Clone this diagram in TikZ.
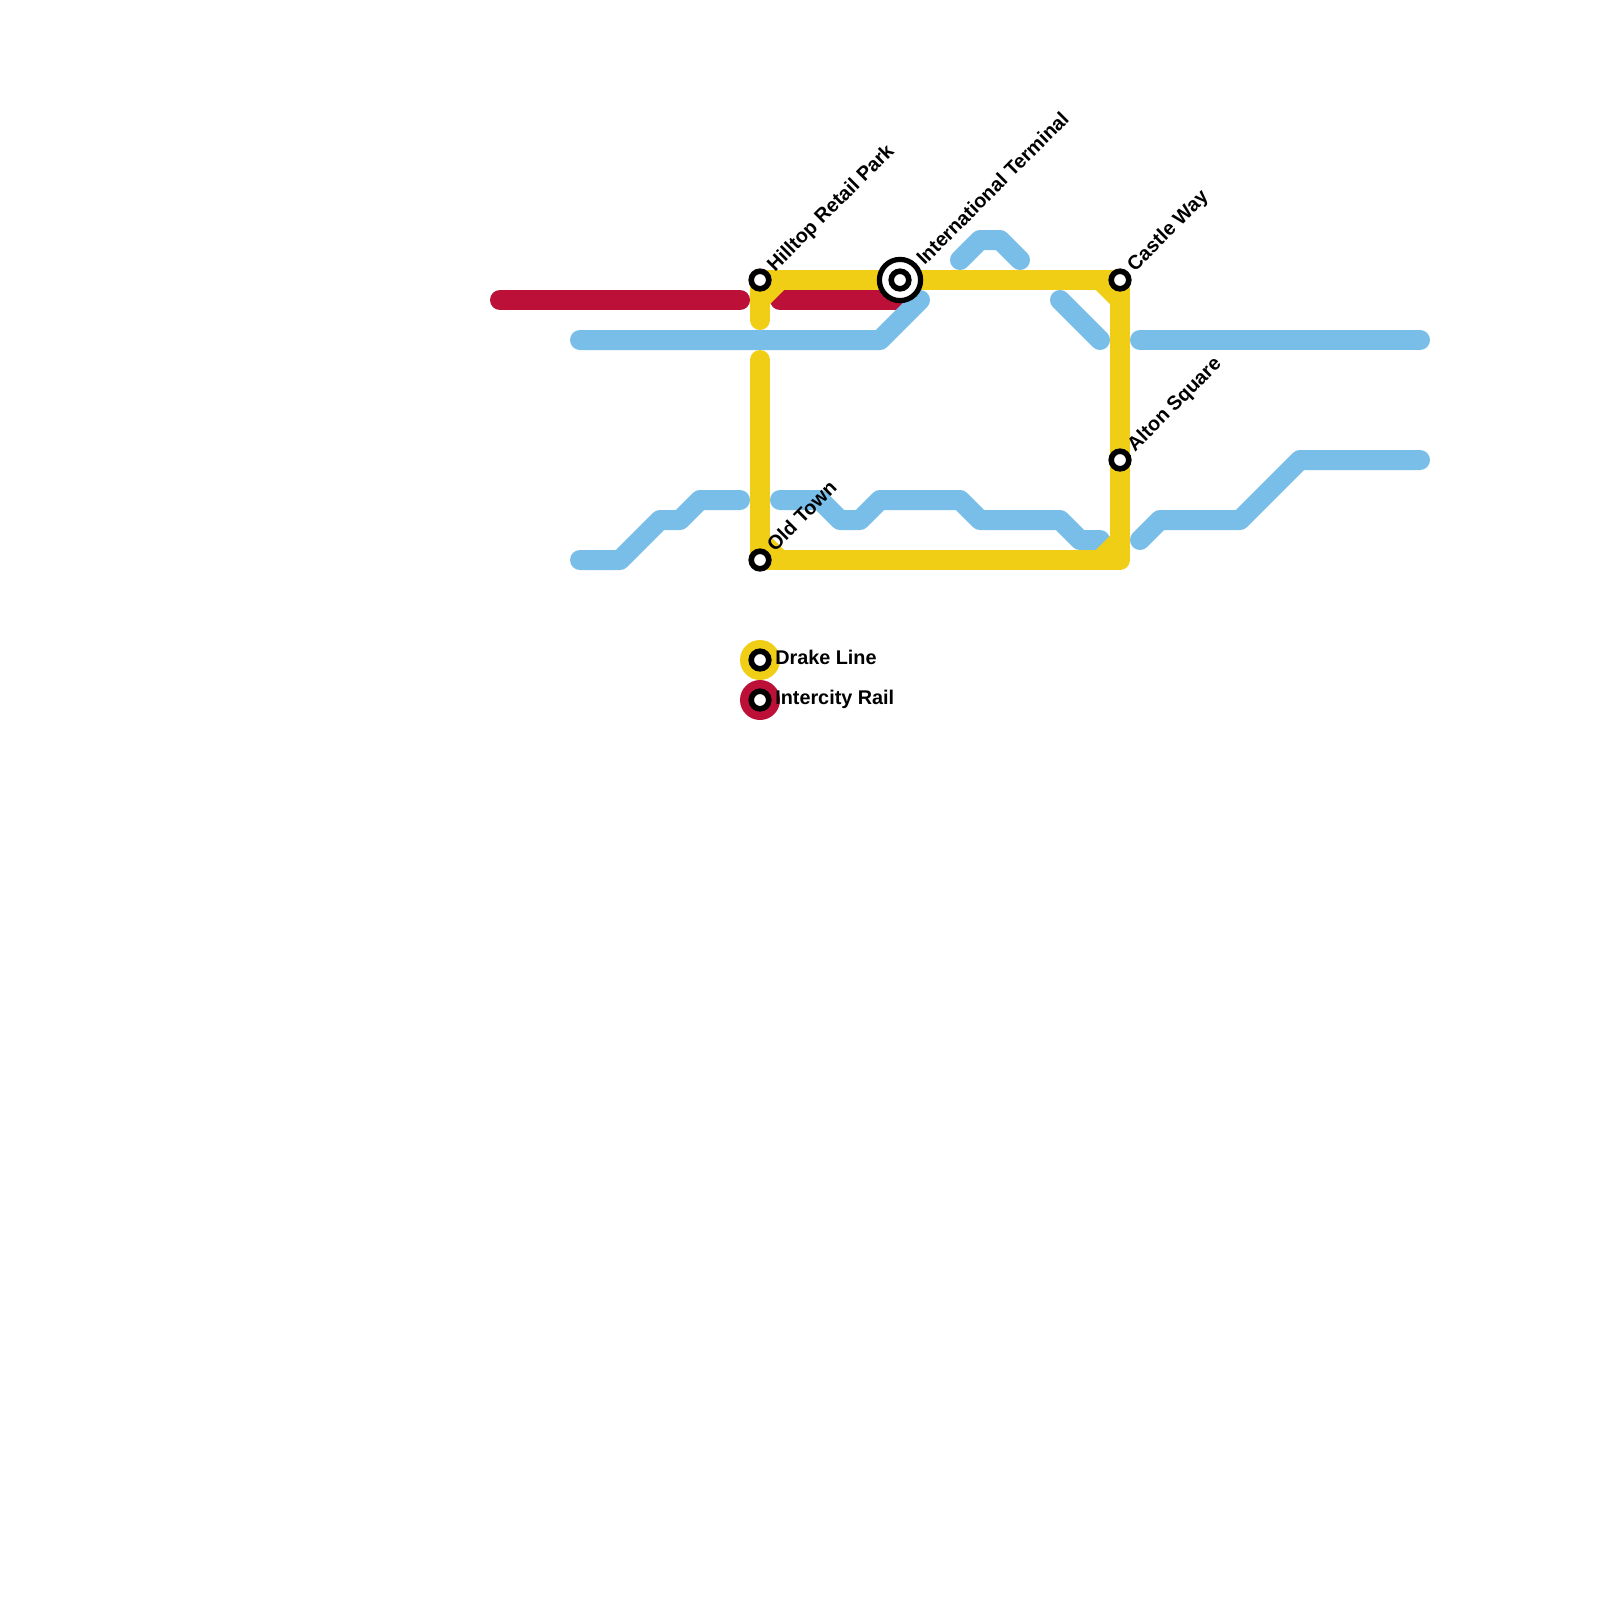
\documentclass[tikz,border=0pt]{standalone}
\usepackage{fontspec}
\setmainfont{Liberation Sans}
\definecolor{drake}{HTML}{F0CE15}
\definecolor{intercity}{HTML}{BD1038}
\definecolor{riverline}{HTML}{79BDE9}
\tikzset{
	drakeline/.style={line width=5mm, draw=drake, line cap=round, line join=round},
	railline/.style={line width=5mm, draw=intercity, line cap=round, line join=round},
	blueline/.style={line width=5mm, draw=riverline, line cap=round, line join=round},
	stop/.style={circle, draw=black, fill=white, line width=1.4mm, minimum size=4.4mm, inner sep=0pt},
	bigstop/.style={circle, draw=black, fill=white, line width=1.3mm, minimum size=10.3mm, inner sep=0pt},
	stoplabel/.style={xshift=3.7mm, yshift=1.9mm, anchor=base west, rotate=45, inner sep=0pt, font=\bfseries\fontsize{14.1}{16}\selectfont},
	keylabel/.style={anchor=base west, inner sep=0pt, font=\bfseries\fontsize{14.1}{16}\selectfont}
}
\begin{document}
\begin{tikzpicture}[x=0.5cm, y=-0.5cm]
\useasboundingbox (0,0) rectangle (80,80);

\coordinate (hilltop) at (38,14);
\coordinate (terminal) at (45,14);
\coordinate (castle) at (56,14);
\coordinate (alton) at (56,23);
\coordinate (oldtown) at (38,28);

% Intercity
\draw[railline] (25,15) -- (37,15);
\draw[railline] (39,15) -- (45,15);

% Blue
\draw[blueline] (29,17) -- (44,17) -- (46,15);
\draw[blueline] (48,13) -- (49,12) -- (50,12) -- (51,13);
\draw[blueline] (53,15) -- (55,17);
\draw[blueline] (57,17) -- (71,17);
\draw[blueline] (29,28) -- (31,28) -- (33,26) -- (34,26) -- (35,25) -- (37,25);
\draw[blueline] (39,25) -- (41,25) -- (42,26) -- (43,26) -- (44,25) -- (48,25) -- (49,26) -- (53,26) -- (54,27) -- (55,27);
\draw[blueline] (57,27) -- (58,26) -- (62,26) -- (65,23) -- (71,23);

% Drake
\draw[drakeline] (38,16) -- (hilltop) -- (castle) -- (oldtown -| castle) -- (oldtown) -- (38,18);
\foreach \a/\b/\c/\d in {38/15/39/14, 55/14/56/15, 55/28/56/27, 38/27/39/28}
	\draw[drakeline, line cap=butt] (\a,\b) -- (\c,\d);

% Stations
\node[stop] (hilltopstop) at (hilltop) {};
\node[bigstop] (terminalstop) at (terminal) {};
\node[stop] (terminalinner) at (terminal) {};
\node[stop] (castlestop) at (castle) {};
\node[stop] (altonstop) at (alton) {};
\node[stop] (oldtownstop) at (oldtown) {};

\node[stoplabel] (hilltoptext) at (hilltop) {Hilltop Retail Park};
\node[stoplabel, xshift=2.8mm, yshift=-0.6mm] (terminaltext) at (terminal) {International Terminal};
\node[stoplabel] (castletext) at (castle) {Castle Way};
\node[stoplabel] (altontext) at (alton) {Alton Square};
\node[stoplabel] (oldtowntext) at (oldtown) {Old Town};

% Legenda
\fill[drake] (38,33) circle (1);
\fill[intercity] (38,35) circle (1);
\node[stop] (drakekey) at (38,33) {};
\node[stop] (railkey) at (38,35) {};
\node[keylabel] (draketext) at (38.75,33.24) {Drake Line};
\node[keylabel] (railtext) at (38.75,35.24) {Intercity Rail};
\end{tikzpicture}
\end{document}
